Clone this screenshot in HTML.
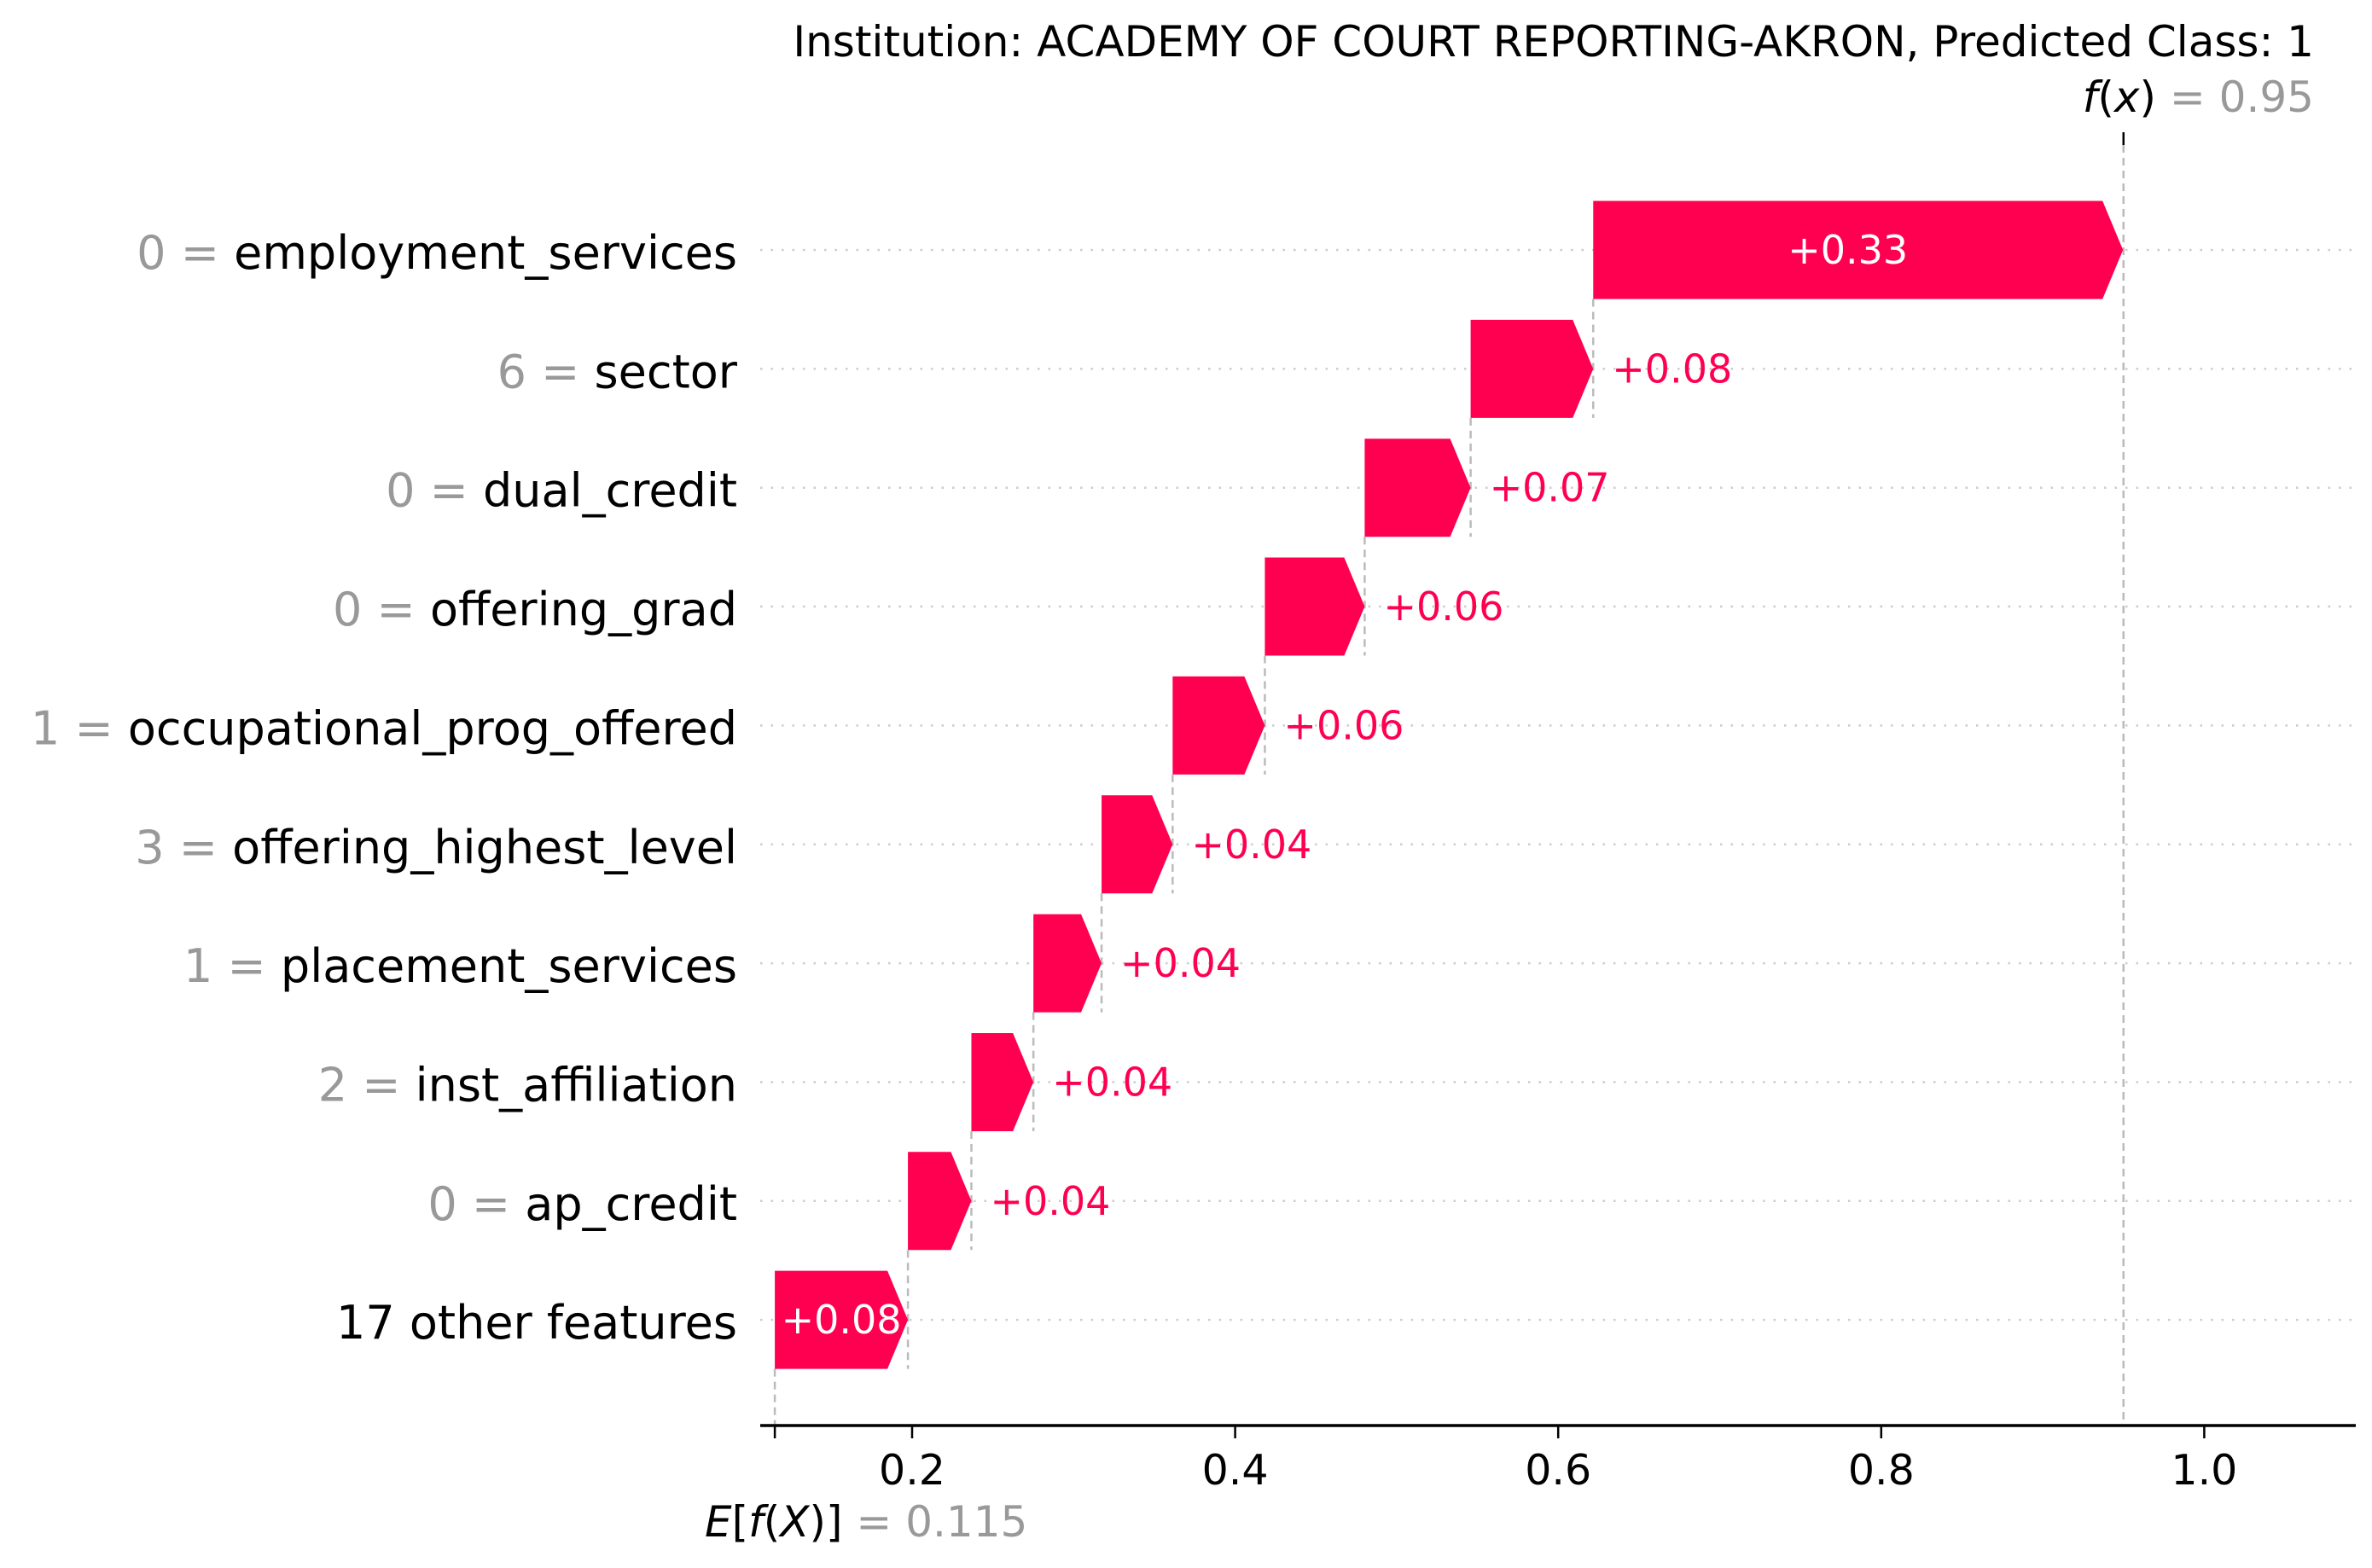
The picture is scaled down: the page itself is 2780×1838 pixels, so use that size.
<!DOCTYPE html>
<html><head><meta charset="utf-8"><style>
html,body{margin:0;padding:0;background:#fff;}
svg{display:block;font-family:"DejaVu Sans","Liberation Sans",sans-serif;}
</style></head><body>
<svg id="chart" width="2780" height="1838" viewBox="0 0 2780 1838" xmlns="http://www.w3.org/2000/svg">
<text x="2712" y="66" text-anchor="end" font-size="50" fill="#000">Institution: ACADEMY OF COURT REPORTING-AKRON, Predicted Class: 1</text>
<g id="grid"></g><g id="lines"></g><g id="bars"></g><g id="labels"></g><g id="axis"></g>
</svg>
<script>
const featureValues = ["0","6","0","0","1","3","1","2","0",""];
const featureNames = ["employment_services","sector","dual_credit","offering_grad","occupational_prog_offered","offering_highest_level","placement_services","inst_affiliation","ap_credit","17 other features"];
const shapValues = [0.328,0.0759,0.0656,0.0618,0.0571,0.044,0.0422,0.0384,0.0393,0.0824];
const baseValue = 0.115;
const fxValue = 0.95;
const xTicks = [0.2,0.4,0.6,0.8,1.0];
const xTickLabels = ["0.2","0.4","0.6","0.8","1.0"];

const NS="http://www.w3.org/2000/svg";
const X0=891, X1=2761, AXY=1671;
function xs(v){return 1069+(v-0.2)*1893;}
function ys(i){return 293+i*139.35;}
const H=115, HEAD=24, RED="#ff0051";
function mk(tag,attrs,parent){const e=document.createElementNS(NS,tag);for(const k in attrs)e.setAttribute(k,attrs[k]);document.getElementById(parent).appendChild(e);return e;}

const n=featureNames.length;
const starts=new Array(n);
let acc=baseValue;
for(let i=n-1;i>=0;i--){starts[i]=acc;acc+=shapValues[i];}

for(let i=0;i<n;i++){
  const cy=ys(i);
  const g=mk('line',{x1:X0,x2:X1,y1:cy,y2:cy,stroke:'#cccccc','stroke-width':2.5,'stroke-dasharray':'2.5 10'},'grid');
  
  
  const yTop=cy+H/2, yBot=(i<n-1)? ys(i+1)+H/2 : AXY;
  const vl=mk('line',{x1:xs(starts[i]),x2:xs(starts[i]),y1:yTop,y2:yBot,stroke:'#bbbbbb','stroke-width':2.5,'stroke-dasharray':'9 6'},'lines');
  
  
  const xa=xs(starts[i]), xb=xs(starts[i]+shapValues[i]);
  const hl=Math.min(HEAD,xb-xa);
  const p=mk('polygon',{points:`${xa},${cy-H/2} ${xb-hl},${cy-H/2} ${xb},${cy} ${xb-hl},${cy+H/2} ${xa},${cy+H/2}`,fill:RED},'bars');
  
  
  const lab='+'+shapValues[i].toFixed(2);
  const inside=(i===0||i===n-1);
  const t=mk('text',{x:inside?(xa+xb-hl)/2+(i===n-1?hl/2:0):xb+22,y:cy+16,'font-size':46,fill:inside?'#fff':RED,'text-anchor':inside?'middle':'start'},'bars');
  t.textContent=lab;
  
  
  const yl=mk('text',{x:864,y:cy+22,'font-size':54,'text-anchor':'end'},'labels');
  
  
  if(featureValues[i]!==""){
    const s1=document.createElementNS(NS,'tspan');s1.setAttribute('fill','#999');s1.textContent=featureValues[i]+' = ';yl.appendChild(s1);
  }
  const s2=document.createElementNS(NS,'tspan');s2.setAttribute('fill','#000');s2.textContent=featureNames[i];yl.appendChild(s2);
}
const fl=mk('line',{x1:xs(fxValue),x2:xs(fxValue),y1:170,y2:AXY,stroke:'#bbbbbb','stroke-width':2.5,'stroke-dasharray':'9 6'},'lines');


const ft=mk('line',{x1:xs(fxValue),x2:xs(fxValue),y1:155,y2:170,stroke:'#000','stroke-width':2.5},'axis');


const fxt=mk('text',{x:2712,y:131,'font-size':50,'text-anchor':'end'},'axis');


fxt.innerHTML='<tspan font-style="italic">f</tspan>(<tspan font-style="italic">x</tspan>) <tspan fill="#999">= '+fxValue.toFixed(2)+'</tspan>';
const ax=mk('line',{x1:X0,x2:X1,y1:AXY,y2:AXY,stroke:'#000','stroke-width':3.5},'axis');


const et=mk('line',{x1:xs(baseValue),x2:xs(baseValue),y1:AXY,y2:AXY+15,stroke:'#000','stroke-width':2.5},'axis');


xTicks.forEach((v,k)=>{
  const tk=mk('line',{x1:xs(v),x2:xs(v),y1:AXY,y2:AXY+15,stroke:'#000','stroke-width':2.5},'axis');
  
  
  const tl=mk('text',{x:xs(v),y:1740,'font-size':49,'text-anchor':'middle',fill:'#000'},'axis');
  tl.textContent=xTickLabels[k];
  
  
});
const eb=mk('text',{x:826,y:1801,'font-size':50},'axis');


eb.innerHTML='<tspan font-style="italic">E</tspan>[<tspan font-style="italic">f</tspan>(<tspan font-style="italic">X</tspan>)] <tspan fill="#999">= '+baseValue.toFixed(3)+'</tspan>';
</script>
</body></html>
